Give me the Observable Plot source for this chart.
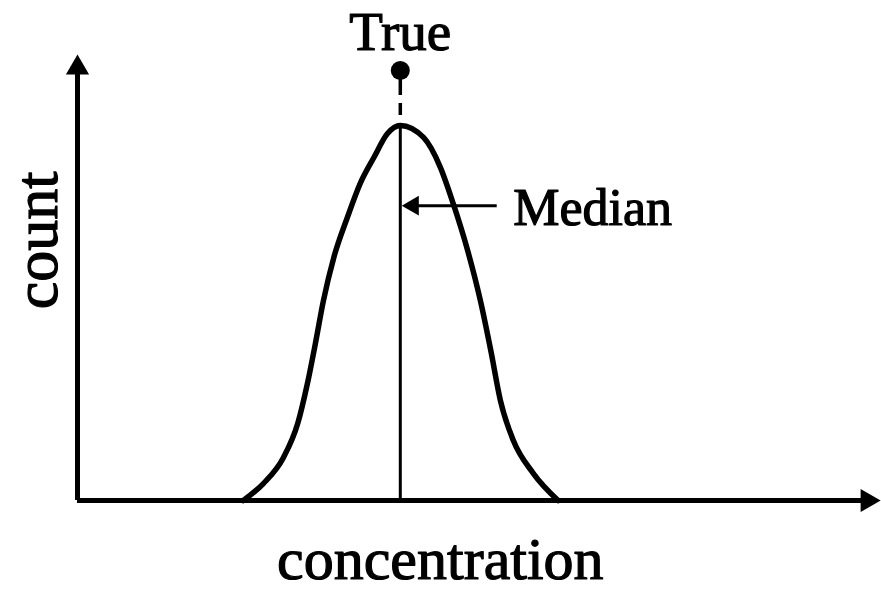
<!DOCTYPE html>
<html>
<head>
<meta charset="utf-8">
<script src="https://cdn.jsdelivr.net/npm/d3@7"></script>
<script src="https://cdn.jsdelivr.net/npm/@observablehq/plot@0.6"></script>
<style>
  html, body { margin: 0; padding: 0; background: #fff; }
  #chart svg { display: block; }
</style>
</head>
<body>
<div id="chart"></div>
<script>
// Bell curve (concentration vs count), arbitrary units 0–100
const curveX = [20.7, 23.2, 25.7, 27.5, 28.7, 29.7, 30.7, 32.0, 33.7, 35.3, 37.0, 38.7, 40.3, 43.2, 45.3, 46.9, 48.7, 50.3, 51.6, 52.8, 54.4, 56.9, 60.0];
const curveY = [0, 3.8, 9.6, 17.3, 26.2, 35.2, 44.8, 54.5, 63.5, 71.1, 76.9, 82.3, 84.1, 81.4, 74.7, 66.6, 56.1, 44.8, 33.6, 22.4, 13.5, 6.1, 0];

// Median / true value
const medianX = [40.3];
const peakY = [84.1];
const trueY = [96.4];

// Axis extents (end of arrows)
const xAxisEnd = [98.6];
const yAxisEnd = [97.0];

// Median pointer
const pointerY = [66.1];
const pointerFrom = [52.4];
const pointerTip = [41.9];

// Labels
const labelText = ["True", "Median", "concentration", "count"];
const labelX = [40.3, 54.4, 45.3, -2.6];
const labelY = [100.9, 61.7, -17.7, 58.3];

const curve = curveX.map((x, i) => ({x, y: curveY[i]}));
const labels = labelText.map((t, i) => ({t, x: labelX[i], y: labelY[i]}));

const font = "'Liberation Serif', 'Times New Roman', serif";

const plot = Plot.plot({
  width: 881,
  height: 591,
  marginLeft: 77,
  marginRight: 3,
  marginTop: 54,
  marginBottom: 91,
  x: {domain: [0, 100], axis: null},
  y: {domain: [0, 100], axis: null},
  style: {background: "#fff", fontFamily: font},
  marks: [
    // axes
    Plot.ruleY([0], {x1: 0, x2: xAxisEnd[0], stroke: "#000", strokeWidth: 5}),
    Plot.ruleX([0], {y1: 0, y2: yAxisEnd[0], stroke: "#000", strokeWidth: 5}),
    Plot.dot([{x: 0, y: yAxisEnd[0]}], {x: "x", y: "y", symbol: "triangle", r: 8.6, fill: "#000", stroke: "none"}),
    Plot.dot([{x: xAxisEnd[0], y: 0}], {x: "x", y: "y", symbol: "triangle", r: 8.6, rotate: 90, fill: "#000", stroke: "none"}),
    // curve
    Plot.line(curve, {x: "x", y: "y", curve: "monotone-x", stroke: "#000", strokeWidth: 5.5}),
    // median line
    Plot.ruleX(medianX, {y1: 0, y2: peakY[0], stroke: "#000", strokeWidth: 3}),
    // dashed line to true value
    Plot.ruleX(medianX, {y1: trueY[0], y2: peakY[0], stroke: "#000", strokeWidth: 3.5, strokeDasharray: "25,8,12,8"}),
    Plot.dot([{x: medianX[0], y: trueY[0]}], {x: "x", y: "y", r: 9.5, fill: "#000", stroke: "none"}),
    // median pointer
    Plot.ruleY(pointerY, {x1: pointerTip[0], x2: pointerFrom[0], stroke: "#000", strokeWidth: 3}),
    Plot.dot([{x: pointerTip[0], y: pointerY[0]}], {x: "x", y: "y", symbol: "triangle", r: 7.3, rotate: -90, fill: "#000", stroke: "none"}),
    // labels
    Plot.text(labels.filter(d => d.t === "True"), {x: "x", y: "y", text: "t", fontSize: 55, textAnchor: "middle", lineAnchor: "bottom", fill: "#000", stroke: "#000", strokeWidth: 1.2}),
    Plot.text(labels.filter(d => d.t === "Median"), {x: "x", y: "y", text: "t", fontSize: 52, textAnchor: "start", lineAnchor: "bottom", fill: "#000", stroke: "#000", strokeWidth: 1.2}),
    Plot.text(labels.filter(d => d.t === "concentration"), {x: "x", y: "y", text: "t", fontSize: 60, textAnchor: "middle", lineAnchor: "bottom", fill: "#000", stroke: "#000", strokeWidth: 1.2}),
    Plot.text(labels.filter(d => d.t === "count"), {x: "x", y: "y", text: "t", fontSize: 62, rotate: -90, textAnchor: "middle", lineAnchor: "bottom", fill: "#000", stroke: "#000", strokeWidth: 1.2})
  ]
});

document.getElementById("chart").appendChild(plot);
</script>
</body>
</html>
